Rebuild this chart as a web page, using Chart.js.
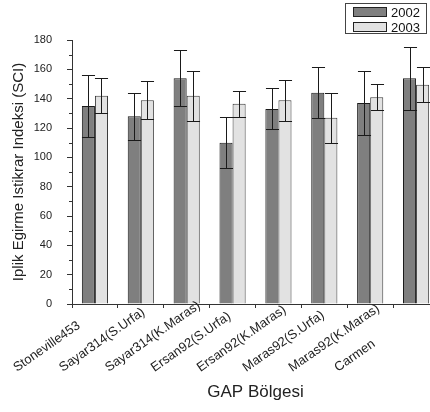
<!DOCTYPE html>
<html lang="tr">
<head>
  <meta charset="UTF-8">
  <title>GAP Bölgesi SCI</title>
  <script src="https://cdn.jsdelivr.net/npm/chart.js"></script>
  <style>
    body { margin: 0; width: 430px; height: 412px; overflow: hidden; background: #fff; font-family: "Liberation Sans", Arial, sans-serif; }
    #wrap { position: relative; width: 430px; height: 412px; overflow: hidden; }
    canvas { display: block; }
    #legend { position: absolute; left: 345px; top: 3px; width: 82px; height: 31px; border: 1px solid #444; background: #fff; box-sizing: border-box; }
    #legend div { position: absolute; left: 7px; height: 10px; width: 34px; border: 1px solid #222; box-sizing: border-box; }
    #legend span { position: absolute; left: 45px; font-size: 13px; line-height: 13px; color: #111; }
  </style>
</head>
<body>
  <div id="wrap">
    <canvas id="sciChart" width="445" height="412"></canvas>
    <div id="legend">
      <div style="top:3px;background:#7f7f7f"></div><span style="top:2px">2002</span>
      <div style="top:18px;background:#e2e2e2"></div><span style="top:17px">2003</span>
    </div>
  </div>
  <script>
    const categories = ['Stoneville453', 'Sayar314(S.Urfa)', 'Sayar314(K.Maras)', 'Ersan92(S.Urfa)',
                        'Ersan92(K.Maras)', 'Maras92(S.Urfa)', 'Maras92(K.Maras)', 'Carmen'];
    const sci2002 = [135, 128, 154, 110, 133, 144, 137, 154];
    const err2002 = [21, 16, 19, 17.5, 14, 17.5, 22, 21.5];
    const sci2003 = [142, 139, 142, 136.5, 139, 127, 141, 149.5];
    const err2003 = [12, 13, 17, 9, 14, 17, 9, 12];
    const yTicks = [0, 20, 40, 60, 80, 100, 120, 140, 160, 180];

    const errors = [err2002, err2003];

    // error bars with caps as wide as the bar
    const errorBars = {
      id: 'errorBars',
      afterDatasetsDraw(chart) {
        const ctx = chart.ctx;
        const y = chart.scales.y;
        ctx.save();
        ctx.strokeStyle = '#1a1a1a';
        ctx.lineWidth = 1;
        chart.data.datasets.forEach((ds, di) => {
          chart.getDatasetMeta(di).data.forEach((bar, i) => {
            const v = ds.data[i], e = errors[di][i];
            const x = Math.round(bar.x) + 0.5;
            const half = bar.width / 2;
            const top = Math.round(y.getPixelForValue(v + e)) + 0.5;
            const bot = Math.round(y.getPixelForValue(v - e)) + 0.5;
            ctx.beginPath();
            ctx.moveTo(x, top); ctx.lineTo(x, bot);
            ctx.moveTo(x - half, top); ctx.lineTo(x + half, top);
            ctx.moveTo(x - half, bot); ctx.lineTo(x + half, bot);
            ctx.stroke();
          });
        });
        ctx.restore();
      }
    };

    // short minor ticks between the labelled ones
    const minorTicks = {
      id: 'minorTicks',
      afterDraw(chart) {
        const ctx = chart.ctx;
        const y = chart.scales.y;
        const x0 = chart.chartArea.left;
        ctx.save();
        ctx.strokeStyle = '#333';
        ctx.lineWidth = 1;
        ctx.beginPath();
        for (let i = 0; i < yTicks.length - 1; i++) {
          const py = Math.round(y.getPixelForValue((yTicks[i] + yTicks[i + 1]) / 2)) + 0.5;
          ctx.moveTo(x0 - 3, py); ctx.lineTo(x0, py);
        }
        ctx.stroke();
        ctx.restore();
      }
    };

    // category names start-aligned and slanted, the way the original draws them
    const catLabels = {
      id: 'catLabels',
      afterDraw(chart) {
        const ctx = chart.ctx;
        const x = chart.scales.x;
        ctx.save();
        ctx.font = '13px "Liberation Sans", Arial, sans-serif';
        ctx.fillStyle = '#222';
        ctx.textAlign = 'left';
        ctx.textBaseline = 'alphabetic';
        categories.forEach((c, i) => {
          ctx.save();
          ctx.translate(x.getPixelForValue(i) - 78, x.top + 68);
          ctx.rotate(-35 * Math.PI / 180);
          ctx.fillText(c, 0, 0);
          ctx.restore();
        });
        ctx.restore();
      }
    };

    Chart.defaults.font.family = '"Liberation Sans", Arial, sans-serif';
    Chart.defaults.color = '#222';

    new Chart(document.getElementById('sciChart'), {
      type: 'bar',
      data: {
        labels: categories,
        datasets: [
          { label: '2002', data: sci2002, backgroundColor: '#7f7f7f', borderColor: '#1a1a1a', borderWidth: 1 },
          { label: '2003', data: sci2003, backgroundColor: '#e2e2e2', borderColor: '#3a3a3a', borderWidth: 1 }
        ]
      },
      options: {
        responsive: false,
        animation: false,
        categoryPercentage: 0.57,
        barPercentage: 1,
        layout: { padding: { top: 40, right: 6, left: 0, bottom: 0 } },
        plugins: { legend: { display: false }, tooltip: { enabled: false } },
        scales: {
          x: {
            afterFit: s => { s.height = 108; },
            grid: { offset: true, drawOnChartArea: false, tickLength: 4, color: '#333' },
            border: { color: '#333' },
            ticks: { display: false },
            title: { display: true, text: 'GAP Bölgesi', font: { size: 17 }, padding: { top: 0, bottom: 9 } }
          },
          y: {
            min: 0, max: 180,
            afterFit: s => { s.width = 72; },
            afterBuildTicks: s => { s.ticks = yTicks.map(v => ({ value: v })); },
            grid: { drawOnChartArea: false, tickLength: 5, color: '#333' },
            border: { color: '#333' },
            ticks: { padding: 15, font: { size: 11 } },
            title: { display: true, text: 'Iplik Egirme Istikrar Indeksi (SCI)', font: { size: 15 }, padding: { top: 10, bottom: 0 } }
          }
        }
      },
      plugins: [errorBars, minorTicks, catLabels]
    });
  </script>
</body>
</html>
